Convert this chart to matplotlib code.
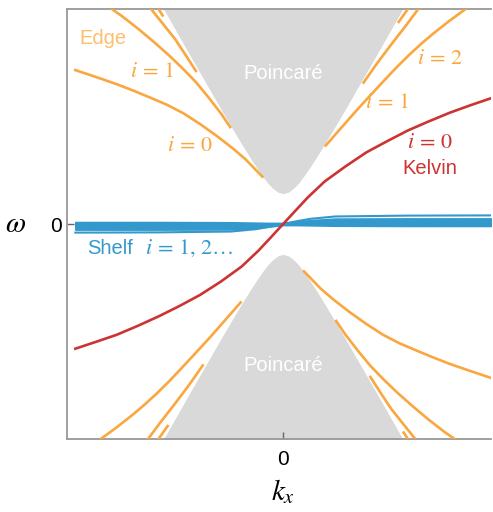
import numpy as np
import matplotlib
matplotlib.use('Agg')
import matplotlib.pyplot as plt

plt.rcParams['mathtext.fontset'] = 'stix'
plt.rcParams['font.family'] = ['Liberation Sans', 'DejaVu Sans']

### colours
c_edge = '#F9A73E'
c_edge_lbl = '#FDBE6E'
c_kelvin = '#CC3333'
c_shelf = '#3399CC'
c_band = '#D9D9D9'
c_axis = '#999999'

### data (k_x, omega)
# lower edge of the upper Poincare band, k >= 0 half (band is symmetric in k,
# lower band is the point mirror)
band_k = [0.0, 0.025, 0.05, 0.075, 0.10, 0.13, 0.16, 0.20, 0.25, 0.30, 0.35, 0.40, 0.45, 0.50, 0.55, 0.60, 0.64]
band_w = [0.141, 0.148, 0.166, 0.191, 0.223, 0.265, 0.310, 0.372, 0.453, 0.535, 0.619, 0.703, 0.787, 0.872, 0.957, 1.042, 1.110]

# Kelvin mode
kel_k = [-1.0, -0.9, -0.8, -0.7, -0.6, -0.5, -0.4, -0.3, -0.2, -0.12, -0.06, 0.0,
         0.06, 0.12, 0.2, 0.3, 0.4, 0.5, 0.6, 0.7, 0.8, 0.9, 1.0]
kel_w = [-0.58, -0.548, -0.515, -0.474, -0.43, -0.382, -0.33, -0.268, -0.198, -0.125, -0.063, 0.0,
         0.063, 0.125, 0.198, 0.268, 0.333, 0.385, 0.435, 0.477, 0.517, 0.552, 0.585]

# edge modes, k > 0 branch below zero (drawn with their point mirror too)
e0_k = [0.10, 0.14, 0.18, 0.24, 0.32, 0.40, 0.48, 0.56, 0.64, 0.72, 0.80, 0.88, 1.0]
e0_w = [-0.22, -0.26, -0.30, -0.35, -0.41, -0.465, -0.515, -0.555, -0.588, -0.62, -0.65, -0.677, -0.716]
e1_k = [0.255, 0.30, 0.36, 0.42, 0.48, 0.55, 0.62, 0.70, 0.78, 0.84]
e1_w = [-0.451, -0.515, -0.59, -0.66, -0.72, -0.785, -0.845, -0.91, -0.97, -1.01]
e2_k = [0.42, 0.47, 0.52, 0.58, 0.64]
e2_w = [-0.712, -0.787, -0.86, -0.933, -1.005]
e3_k = [0.58, 0.60]
e3_w = [-0.97, -1.0]
# edge modes, k > 0 branch above zero
f1_k = [0.205, 0.25, 0.30, 0.35, 0.40, 0.45, 0.50, 0.55, 0.61, 0.67, 0.72, 0.80, 0.885]
f1_w = [0.365, 0.415, 0.47, 0.525, 0.578, 0.63, 0.682, 0.733, 0.79, 0.843, 0.884, 0.945, 1.005]
f2_k = [0.387, 0.45, 0.52, 0.59, 0.65]
f2_w = [0.658, 0.745, 0.835, 0.922, 1.0]
f3_k = [0.556, 0.60]
f3_w = [0.94, 1.0]

# shelf modes
sh_k = [-1.0, -0.6, -0.25, -0.13, -0.06, 0.0, 0.06, 0.13, 0.25, 0.6, 1.0]
sh1_w = [-0.04, -0.039, -0.035, -0.024, -0.012, 0.0, 0.012, 0.024, 0.035, 0.039, 0.04]
sh_hi = [0.009, 0.009, 0.008, 0.006, 0.005, 0.005, 0.011, 0.018, 0.025, 0.026, 0.026]
sh_lo = [-0.026, -0.026, -0.025, -0.018, -0.011, -0.005, -0.005, -0.006, -0.008, -0.009, -0.009]


fig = plt.figure(figsize=(4.93, 5.12), dpi=100)
ax = fig.add_axes([67/493, 73/512, 424/493, 430/512])

# Poincare bands
bk = np.concatenate([-np.array(band_k)[::-1], np.array(band_k)[1:]])
bw = np.concatenate([np.array(band_w)[::-1], np.array(band_w)[1:]])
ax.fill_between(bk, bw, 1.2, color=c_band, lw=0, zorder=1)
ax.fill_between(-bk, -bw, -1.2, color=c_band, lw=0, zorder=1)

lw = 1.9
for k, w in [(e0_k, e0_w), (e1_k, e1_w), (e2_k, e2_w), (e3_k, e3_w),
             (f1_k, f1_w), (f2_k, f2_w), (f3_k, f3_w)]:
    k = np.array(k)
    w = np.array(w)
    ax.plot(k, w, color=c_edge, lw=lw, zorder=3, solid_joinstyle='round')
    ax.plot(-k, -w, color=c_edge, lw=lw, zorder=3, solid_joinstyle='round')

# shelf
ax.fill_between(sh_k, sh_lo, sh_hi, color=c_shelf, lw=1.2, edgecolor=c_shelf, zorder=2)
ax.plot(sh_k, sh1_w, color=c_shelf, lw=1.5, zorder=2)

# Kelvin
ax.plot(kel_k, kel_w, color=c_kelvin, lw=lw, zorder=4, solid_joinstyle='round')

# labels
sans = 14.5
mfs = 16
ax.text(-0.865, 0.865, 'Edge', color=c_edge_lbl, fontsize=sans, ha='center', va='center')
ax.text(-0.63, 0.707, r'$i\,=\,1$', color=c_edge, fontsize=mfs, ha='center', va='center')
ax.text(-0.447, 0.367, r'$i\,=\,0$', color=c_edge, fontsize=mfs, ha='center', va='center')
ax.text(0.755, 0.772, r'$i\,=\,2$', color=c_edge, fontsize=mfs, ha='center', va='center')
ax.text(0.50, 0.563, r'$i\,=\,1$', color=c_edge, fontsize=mfs, ha='center', va='center')
ax.text(0.707, 0.377, r'$i\,=\,0$', color=c_kelvin, fontsize=mfs, ha='center', va='center')
ax.text(0.707, 0.26, 'Kelvin', color=c_kelvin, fontsize=sans, ha='center', va='center')
ax.text(0.0, 0.702, 'Poincaré', color='white', fontsize=sans, ha='center', va='center')
ax.text(0.0, -0.656, 'Poincaré', color='white', fontsize=sans, ha='center', va='center')
ax.text(-0.832, -0.112, 'Shelf', color=c_shelf, fontsize=sans, ha='center', va='center')
ax.text(-0.452, -0.112, r'$i\,=\,1,\,2\ldots$', color=c_shelf, fontsize=mfs, ha='center', va='center')

ax.set_xlim(-1.04, 1.0)
ax.set_ylim(-1.0, 1.0)
ax.set_xticks([0])
ax.set_yticks([0])
ax.set_xticklabels(['0'])
ax.set_yticklabels(['0'])
ax.tick_params(direction='in', length=5, width=1, color='#666666', labelsize=15, pad=8)
ax.tick_params(axis='y', pad=4)
ax.spines['right'].set_visible(False)
for s in ['left', 'top', 'bottom']:
    ax.spines[s].set_color(c_axis)
    ax.spines[s].set_linewidth(1.3)

fig.text(283/493, 1 - 500/512, r'$k_x$', fontsize=21, ha='center', va='baseline')
fig.text(16/493, 1 - 232/512, r'$\omega$', fontsize=21, ha='center', va='baseline')

fig.savefig('out.png', dpi=100)
